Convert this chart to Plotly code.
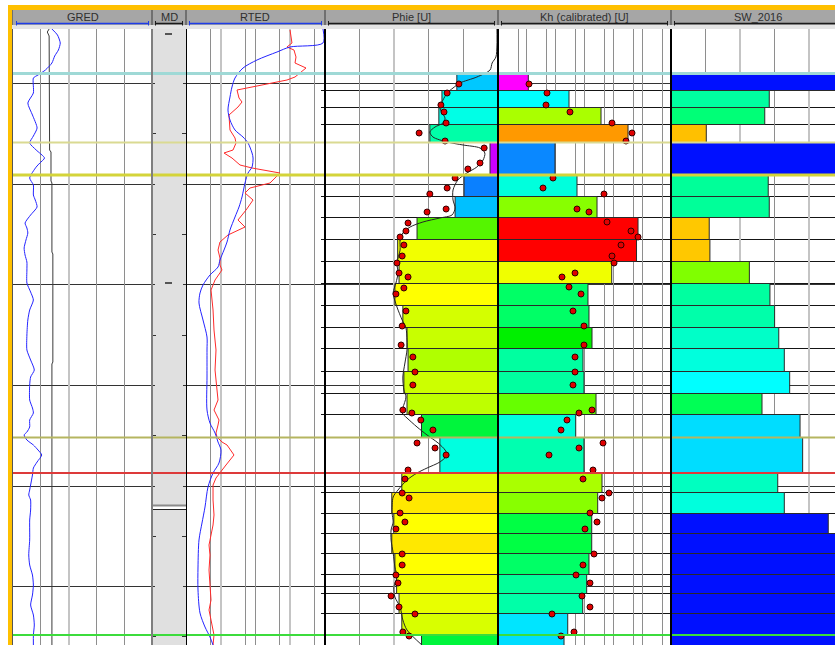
import math
import plotly.graph_objects as go

W, H = 835, 645

# ---------------- DATA ----------------
# GRED track (gamma ray, API) and a reference curve (same scale)
GR_DEPTH = [29,35,43,50,56,63,70,75,78,93,103,115,128,136,143,150,158,163,167,178,
            185,195,200,207,215,223,228,233,240,248,255,262,270,283,292,300,310,320,335,350,
            360,370,377,385,400,408,413,420,427,432,435,440,445,450,455,462,468,475,485,490,
            495,500,510,520,530,540,555,565,575,585,595,605,615,625,635,645]
GR_API = [42,48,51,49,45,42,35,27,22,22,16,21,26,22,18,25,34,29,25,18,
          22,22,24,26,19,13,15,16,14,12,13,15,15,15,19,22,18,16,15,15,
          19,23,19,18,18,21,22,18,18,15,12,15,22,27,31,26,22,21,19,18,
          17,19,19,18,18,18,17,18,21,22,21,19,22,23,22,22]
CAL_DEPTH = [29,32,36,150,152,181,183,252,254,362,364,645]
CAL_VAL = [39,37,39,39.5,41,41,42,42,43,43,42,42]

# RTED track (resistivity, ohm.m, log)
RD_DEPTH = [30,36,43,47,50,57,63,68,77,80,88,90,98,102,107,115,130,138,143,150,
            153,158,165,168,173,183,188,193,200,210,220,227,235,242,250,258,265,270,280,290,
            310,330,350,370,390,400,410,420,425,433,437,442,445,455,465,472,478,485,500,515,
            525,535,545,555,570,585,600,610,625,635,645]
RD_VAL = [197,210,224,161,256,293,274,568,274,161,10.7,5.87,6.7,8.18,6.27,3.45,3.69,5.14,5.5,4.51,
          2.48,4.21,7.16,15.9,101,52.3,13.9,9.98,17.0,10.7,6.27,9.98,3.23,1.9,1.67,1.9,1.9,2.17,1.37,1.05,
          1.2,1.28,1.46,1.37,1.56,1.67,1.28,1.78,1.67,1.46,1.56,2.17,3.03,4.81,2.83,2.03,1.46,1.2,1.2,1.28,
          1.2,1.05,0.92,0.98,0.92,0.98,1.05,0.92,1.12,1.28,1.2]
RS_DEPTH = [29,43,47,52,60,68,78,87,97,110,120,130,137,143,153,158,167,173,183,197,
            207,217,230,242,250,260,267,275,285,293,303,320,337,350,377,410,423,433,442,450,
            463,473,487,507,523,540,567,590,613,627,637,645]
RS_VAL = [1750,1750,197,83.1,22.1,8.74,5.14,4.21,3.69,3.23,3.69,5.14,8.74,12.2,15.9,17.0,15.9,12.2,9.98,8.18,
          6.70,5.14,3.69,3.03,2.48,1.90,1.67,0.98,0.617,0.506,0.473,0.617,0.804,0.804,0.804,0.804,0.98,1.37,1.67,2.03,
          1.78,1.20,0.859,0.705,0.577,0.473,0.443,0.443,0.506,0.705,0.98,1.20]

# Zones (top depth of each zone)
ZONE_TOP = [74.5,90.5,107.5,124.5,142.5,174.5,196.5,217.5,239.5,261.5,283.5,305.5,327.5,348.5,371.5,393.5,
            414.5,437.5,472.5,492.5,513.5,533.5,553.5,574.5,593.5,613.5,634.5]
ZONE_LAST_BASE = 660
PHIE_ZONE = [0.119,0.162,0.171,0.197,0.023,0.098,0.124,0.234,0.290,0.286,0.298,0.275,0.263,0.260,
             0.272,0.263,0.221,0.168,0.278,0.307,0.301,0.307,0.298,0.293,0.286,0.278,0.221]
KH_ZONE = [0.1125,2.90,37.4,323,0.949,5.50,27.2,718,637,87.9,13.2,14.3,18.2,8.88,9.62,25.1,4.96,9.62,
           40.5,28.7,17.8,17.8,14.3,11.9,8.67,2.62,1.95]
SW_ZONE = [1.0,0.568,0.542,0.204,1.0,0.562,0.568,0.221,0.225,0.453,0.572,0.599,0.623,0.655,0.686,0.526,
           0.746,0.761,0.617,0.655,0.909,1.0,1.0,1.0,1.0,1.0,1.0]

PHIE_COLORS = ['#00c8ff','#00ffee','#00ffe6','#00ffa8','#cc00ff','#0a80ff','#00c0ff','#55f500','#f2ff00','#e6ff00',
               '#ffff00','#d4ff00','#c8ff00','#b0ff00','#ccff00','#beff00','#00f53c','#00ffe0','#e0ff00','#ffe800',
               '#ffff00','#ffe800','#ffff00','#f0ff00','#e8ff00','#d8ff00','#00f53c']
KH_COLORS = ['#ff00ff','#00ffff','#aaff00','#ff9900','#0a88ff','#00ffdd','#88ff00','#ff0000','#ff0000','#f0ff00',
             '#00ff66','#00ff66','#00f000','#00ffa0','#00ffa0','#66ff00','#00ffdd','#00ffb0','#aaff00','#88ff00',
             '#00ff44','#00ff44','#00ff66','#00ff99','#00ffa8','#00e5ff','#00ddff']
SW_COLORS = ['#0010ff','#00ffa0','#00ff77','#ffc000','#0010ff','#00ff99','#00ff99','#ffc800','#ffc800','#80ff00',
             '#00ffa0','#00ffaa','#00ffc8','#00ffdd','#00ffff','#00ff55','#00ddff','#00ddff','#00ffc0','#00ffdd',
             '#0010ff','#0010ff','#0010ff','#0010ff','#0010ff','#0010ff','#0010ff']

# Phie log curve and core points
PC_DEPTH = [29,45,57,63,70,77,83,88,93,100,107,113,118,123,127,132,137,142,145,148,
            153,160,167,173,180,190,200,208,215,218,222,227,233,240,250,263,273,283,293,307,
            320,328,340,350,363,377,390,397,408,413,418,427,435,443,450,455,462,468,473,480,
            490,497,513,522,530,540,553,567,577,587,597,607,620,630,645]
PC_VAL = [0.003,0.003,0.006,0.017,0.023,0.061,0.110,0.130,0.147,0.159,0.168,0.162,0.153,0.159,0.182,0.197,0.188,0.147,0.101,0.052,
          0.038,0.043,0.061,0.090,0.116,0.130,0.130,0.124,0.133,0.168,0.217,0.254,0.275,0.283,0.283,0.292,0.289,0.295,0.303,0.292,
          0.277,0.266,0.263,0.263,0.269,0.275,0.272,0.266,0.275,0.277,0.263,0.234,0.205,0.173,0.153,0.147,0.168,0.205,0.234,0.263,
          0.289,0.303,0.306,0.303,0.309,0.309,0.303,0.298,0.292,0.301,0.298,0.283,0.275,0.263,0.220]
PD_DEPTH = [84,93,105,112,123,133,141,148,163,169,178,188,194,209,212,223,231,237,245,256,
            263,273,277,288,294,311,326,345,357,372,385,410,413,420,430,443,448,455,470,479,
            493,498,513,522,529,554,565,575,583,596,607,614,632,636]
PD_VAL = [0.113,0.147,0.165,0.156,0.150,0.228,0.153,0.040,0.052,0.087,0.124,0.147,0.197,0.150,0.205,0.260,0.266,0.283,0.272,0.277,
          0.292,0.286,0.260,0.272,0.295,0.266,0.277,0.280,0.246,0.240,0.246,0.275,0.249,0.223,0.188,0.234,0.182,0.150,0.260,0.269,
          0.277,0.257,0.283,0.269,0.295,0.277,0.277,0.295,0.289,0.309,0.286,0.240,0.275,0.257]

# Kh core points
KD_DEPTH = [84,93,105,112,123,133,141,178,188,194,209,212,222,231,237,245,256,263,273,277,
            287,294,311,326,345,357,372,385,410,413,420,430,443,448,455,470,479,493,498,513,
            522,529,554,565,575,583,596,607,614,632,636]
KD_VAL = [0.119,0.501,0.462,3.14,89.9,445,275,0.809,0.364,47.5,5.50,14.3,60.4,410,718,185,89.9,106,4.69,1.66,
          2.90,7.57,3.99,9.62,9.62,4.69,4.69,3.99,18.2,6.45,2.47,1.53,43.9,6.45,0.587,19.7,8.88,70.8,40.5,15.5,
          27.2,10.4,21.4,8.88,5.08,15.5,8.20,15.5,0.746,4.33,1.53]

DEPTH_GRID = [83.5, 184.5, 284.5, 385.5, 486.5, 586.5]
DEPTH_HALF = [133.5, 234.5, 335.5, 435.5, 536.5, 636.5]
WELL_TOPS = [73.5, 142.5, 175, 437.5, 473, 635]
WELL_TOP_COLORS = ['#9fd9d6', '#dada92', '#d4d43a', '#b5b560', '#dd3a3a', '#3cdc3c']
WELL_TOP_WIDTHS = [3, 2, 3, 2, 2, 2]
TRACK_NAMES = ['GRED', 'MD', 'RTED', 'Phie [U]', 'Kh (calibrated) [U]', 'SW_2016']

# ---------------- LAYOUT HELPERS ----------------
def fx(p):
    return p / W

def fy(p):
    return 1 - p / H

TRACKS = [(13, 152), (152, 186), (186, 325), (325, 498), (498, 671), (671, 844)]
zone_base = ZONE_TOP[1:] + [ZONE_LAST_BASE]
zone_mid = [(a + b) / 2 for a, b in zip(ZONE_TOP, zone_base)]
zone_thk = [b - a for a, b in zip(ZONE_TOP, zone_base)]

fig = go.Figure()

# GRED
fig.add_trace(go.Scatter(x=CAL_VAL, y=CAL_DEPTH, mode='lines', line=dict(color='#3a3a3a', width=1),
                         xaxis='x', yaxis='y'))
fig.add_trace(go.Scatter(x=GR_API, y=GR_DEPTH, mode='lines', line=dict(color='#2424ff', width=1, shape='spline', smoothing=0.6),
                         xaxis='x', yaxis='y'))
# RTED
fig.add_trace(go.Scatter(x=RD_VAL, y=RD_DEPTH, mode='lines', line=dict(color='#ff2a2a', width=1),
                         xaxis='x2', yaxis='y'))
fig.add_trace(go.Scatter(x=RS_VAL, y=RS_DEPTH, mode='lines', line=dict(color='#2424ff', width=1, shape='spline', smoothing=0.8),
                         xaxis='x2', yaxis='y'))
# Phie
fig.add_trace(go.Bar(x=PHIE_ZONE, y=zone_mid, width=zone_thk, orientation='h',
                     marker=dict(color=PHIE_COLORS, line=dict(color='#2a2a2a', width=1)),
                     xaxis='x3', yaxis='y'))
fig.add_trace(go.Scatter(x=PC_VAL, y=PC_DEPTH, mode='lines', line=dict(color='#262626', width=1, shape='spline', smoothing=0.8),
                         xaxis='x3', yaxis='y'))
fig.add_trace(go.Scatter(x=PD_VAL, y=PD_DEPTH, mode='markers',
                         marker=dict(color='#e00000', size=6, line=dict(color='#300000', width=1)),
                         xaxis='x3', yaxis='y'))
# Kh
fig.add_trace(go.Bar(x=KH_ZONE, y=zone_mid, width=zone_thk, orientation='h',
                     marker=dict(color=KH_COLORS, line=dict(color='#2a2a2a', width=1)),
                     xaxis='x4', yaxis='y'))
fig.add_trace(go.Scatter(x=KD_VAL, y=KD_DEPTH, mode='markers',
                         marker=dict(color='#e00000', size=6, line=dict(color='#300000', width=1)),
                         xaxis='x4', yaxis='y'))
# SW
fig.add_trace(go.Bar(x=SW_ZONE, y=zone_mid, width=zone_thk, orientation='h',
                     marker=dict(color=SW_COLORS, line=dict(color='#2a2a2a', width=1)),
                     xaxis='x5', yaxis='y'))

common = dict(showticklabels=False, ticks='', zeroline=False, showline=False, anchor='y',
              fixedrange=True, tickmode='array', showgrid=True, gridcolor='#8e8e8e', gridwidth=1)
minor_style = dict(tickmode='array', showgrid=True, gridcolor='#c4c4c4', gridwidth=2, ticks='')

fig.update_layout(
    width=W, height=H, margin=dict(l=0, r=0, t=0, b=0),
    paper_bgcolor='white', plot_bgcolor='white', showlegend=False, barmode='overlay',
    xaxis=dict(domain=[fx(13), fx(152)], range=[0, 150], tickvals=[30, 90, 120],
               minor=dict(tickvals=[60], **minor_style), **common),
    xaxis2=dict(domain=[fx(186), fx(325)], type='log', range=[math.log10(0.2), math.log10(2000)],
                tickvals=[1, 10, 20, 100, 1000], minor=dict(tickvals=[2, 200], **minor_style), **common),
    xaxis3=dict(domain=[fx(325), fx(498)], range=[0.5, 0], tickvals=[0.1, 0.2, 0.4],
                minor=dict(tickvals=[0.3], **minor_style), **common),
    xaxis4=dict(domain=[fx(498), fx(671)], type='log', range=[-2, 4],
                tickvals=[0.05, 0.1, 0.5, 1, 5, 10, 50, 100, 500, 1000, 5000], **common),
    xaxis5=dict(domain=[fx(671), 1], range=[0, 0.948], tickvals=[0.2, 0.6],
                minor=dict(tickvals=[0.4, 0.8], **minor_style), **common),
    yaxis=dict(domain=[0, fy(29)], range=[645, 29], showgrid=False, zeroline=False,
               showticklabels=False, ticks='', showline=False, anchor='x', fixedrange=True),
)

shapes = []
def pline(x0, x1, y0, y1, color, width, layer='above', yref='paper'):
    shapes.append(dict(type='line', xref='paper', yref=yref, x0=x0, x1=x1, y0=y0, y1=y1,
                       line=dict(color=color, width=width), layer=layer))

def prect(x0, x1, y0, y1, fill, layer='above', yref='paper'):
    shapes.append(dict(type='rect', xref='paper', yref=yref, x0=x0, x1=x1, y0=y0, y1=y1,
                       fillcolor=fill, line=dict(width=0), layer=layer))

# MD track background
prect(fx(152), fx(186), 29, 645, '#e0e0e0', layer='below', yref='y')
# depth grid lines
for d in DEPTH_GRID:
    pline(fx(13), fx(155), d, d, '#333333', 1, layer='below', yref='y')
    pline(fx(183), 1, d, d, '#333333', 1, layer='below', yref='y')
for d in DEPTH_HALF:
    pline(fx(152), fx(156), d, d, '#333333', 1, layer='below', yref='y')
    pline(fx(182), fx(186), d, d, '#333333', 1, layer='below', yref='y')
# zone boundary lines
for d in ZONE_TOP:
    pline(fx(321), 1, d, d, '#151515', 1, layer='below', yref='y')
# MD labels and break
pline(fx(165), fx(172), 34, 34, '#555555', 2, yref='y')
pline(fx(165), fx(172), 283, 283, '#555555', 2, yref='y')
prect(fx(152), fx(186), 505, 509, 'white', yref='y')
pline(fx(152), fx(186), 505.5, 505.5, '#8a8a8a', 2, yref='y')
pline(fx(152), fx(186), 509.5, 509.5, '#222222', 1, yref='y')
# well tops
for d, c, w in zip(WELL_TOPS, WELL_TOP_COLORS, WELL_TOP_WIDTHS):
    pline(fx(13), 1, d, d, c, w, yref='y')
# track borders in data area
for xb, c, w in [(12.5, '#555555', 1), (152, '#7f7f7f', 2), (186.5, '#000000', 1),
                 (325, '#000000', 2), (498, '#000000', 2), (671, '#000000', 2)]:
    pline(fx(xb), fx(xb), 0, fy(29), c, w)

# header
prect(fx(12), 1, fy(25), fy(10), '#a6a6a6')
prect(fx(12), 1, fy(29), fy(25), '#e4e4e4')
for xb in [12, 152, 186, 325, 498, 671]:
    pline(fx(xb), fx(xb), fy(25), fy(10), '#707070', 2)
for (a, b), name in zip(TRACKS, TRACK_NAMES):
    col = '#1f3ce6' if name in ('GRED', 'RTED') else '#1a1a1a'
    x0, x1 = a + 3.5, min(b - 3.5, 835)
    pline(fx(x0), fx(x1), fy(23.5), fy(23.5), col, 1.5)
    pline(fx(x0), fx(x0), fy(25.5), fy(21), col, 1)
    if b <= 835:
        pline(fx(x1), fx(x1), fy(25.5), fy(21), col, 1)

# orange frame
prect(fx(8), 1, fy(10), fy(5), '#ffc000')
prect(fx(8), fx(12), 0, fy(5), '#ffc000')

fig.update_layout(shapes=shapes)

annotations = []
for (a, b), name in zip(TRACKS, TRACK_NAMES):
    annotations.append(dict(x=fx((a + b) / 2), y=fy(17), xref='paper', yref='paper', text=name,
                            showarrow=False, xanchor='center', yanchor='middle',
                            font=dict(family='Liberation Sans, Arial, sans-serif', size=11, color='#2e2e2e')))
fig.update_layout(annotations=annotations)

fig.write_html('out.html', config={'displayModeBar': False, 'staticPlot': True},
               post_script="document.body.style.margin='0';document.body.style.overflow='hidden';")
with open('out.html', 'r', encoding='utf-8') as f:
    html = f.read()
html = html.replace('<head>', '<head><style>html,body{margin:0;padding:0;overflow:hidden;}</style>', 1)
with open('out.html', 'w', encoding='utf-8') as f:
    f.write(html)
